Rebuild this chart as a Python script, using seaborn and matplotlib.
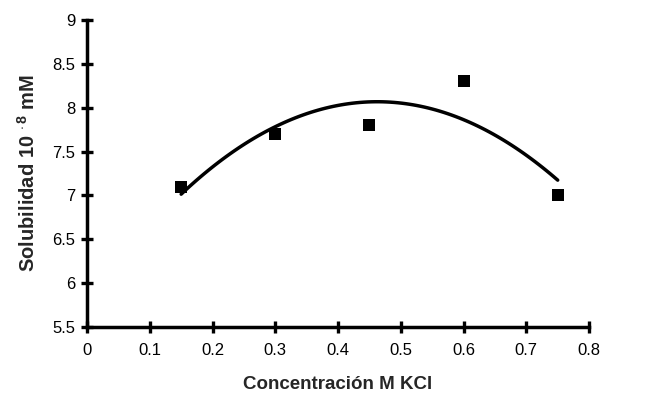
import matplotlib
matplotlib.use("Agg")
import matplotlib.pyplot as plt
import seaborn as sns
import pandas as pd

# Solubility measurements vs KCl concentration
concentracion = [0.15, 0.30, 0.45, 0.60, 0.75]
solubilidad = [7.1, 7.7, 7.8, 8.3, 7.0]

x_ticks = [0, 0.1, 0.2, 0.3, 0.4, 0.5, 0.6, 0.7, 0.8]
x_ticklabels = ["0", "0.1", "0.2", "0.3", "0.4", "0.5", "0.6", "0.7", "0.8"]
y_ticks = [5.5, 6, 6.5, 7, 7.5, 8, 8.5, 9]
y_ticklabels = ["5.5", "6", "6.5", "7", "7.5", "8", "8.5", "9"]

df = pd.DataFrame({"conc": concentracion, "sol": solubilidad})

sns.set_theme(style="ticks")
plt.rcParams["font.family"] = ["Liberation Sans", "DejaVu Sans"]
plt.rcParams["mathtext.fontset"] = "custom"
plt.rcParams["mathtext.rm"] = "Liberation Sans:bold"
plt.rcParams["mathtext.it"] = "Liberation Sans:bold"

fig = plt.figure(figsize=(6.47, 3.97), dpi=100)
ax = fig.add_axes([0.1345, 0.176, 0.776, 0.774])

# Second-order polynomial trend line
sns.regplot(data=df, x="conc", y="sol", order=2, ci=None, scatter=False,
            line_kws={"color": "black", "linewidth": 2.5}, ax=ax)
sns.scatterplot(data=df, x="conc", y="sol", marker="s", s=75, color="black",
                edgecolor="black", linewidth=0, ax=ax, zorder=3)

ax.set_xlim(0, 0.8)
ax.set_ylim(5.5, 9)
ax.set_xticks(x_ticks)
ax.set_xticklabels(x_ticklabels)
ax.set_yticks(y_ticks)
ax.set_yticklabels(y_ticklabels)

for side in ["top", "right"]:
    ax.spines[side].set_visible(False)
for side in ["left", "bottom"]:
    ax.spines[side].set_linewidth(2.5)
    ax.spines[side].set_color("black")

ax.tick_params(axis="both", direction="inout", length=9, width=2.4, color="black",
               labelsize=12, labelcolor="black")
ax.tick_params(axis="x", pad=7)
ax.tick_params(axis="y", pad=4)

ax.set_xlabel("Concentración M KCl", fontsize=13.5, fontweight="bold", labelpad=13)
ax.set_ylabel(r"Solubilidad 10 $^{\cdot\,8}$ mM", fontsize=14.5, fontweight="bold",
              labelpad=10)

fig.savefig("out.png", dpi=100, facecolor="white")
